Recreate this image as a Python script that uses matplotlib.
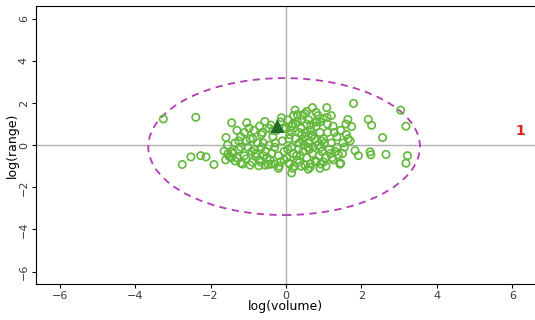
import numpy as np
import matplotlib.pyplot as plt
from matplotlib.patches import Ellipse

# log(volume), log(range) of the green points
vol = [-3.25, -2.39, -1.44, -1.59, -1.64, -1.54, -1.43, -2.52, -2.26, -2.12, -2.75, -1.91,
       -1.04, -0.56, -1.30, -1.20, -1.35, -1.25, -1.10, -1.30, -1.00, -0.95, -0.85, -0.80,
       -0.70, -0.90, -0.60, -0.65, -0.55, -0.50, -0.40, -0.72, -0.47, -0.35, -0.30, -0.20,
       -0.15, -0.10, -0.05, -0.45, -1.15, -0.98, -1.55, -1.45, -0.25, -0.15, -1.20, -0.75,
       -0.60, -0.38, -0.28, -0.85, -1.05, -0.45, -0.20, -0.65, -1.40, -0.90,
       0.24, 0.70, 1.08, 0.45, 1.79, 0.98, 1.09, 1.64, 1.59, 1.74, 2.18, 2.27, 3.04, 3.18,
       2.56, 1.51, 1.83, 1.92, 2.23, 2.25, 2.65, 3.22, 3.18, 1.39, 1.45, 0.15, 0.59, 1.43,
       0.05, 0.15, 0.30, 0.40, 0.55, 0.65, 0.80, 0.90, 0.10, 0.25, 0.35, 0.50, 0.60, 0.75,
       0.85, 1.00, 1.10, 1.20, 1.25, 1.35, 0.05, 0.20, 0.30, 0.45, 0.55, 0.70, 0.80, 0.95,
       1.05, 1.15, 1.25, 0.10, 0.40, 0.65, 0.90, 1.00, 1.30, 1.50, 1.60, 1.70, 1.45, 0.20,
       0.50, 0.85, 0.35, 0.00, 0.60, 1.20, 0.15, 0.45, 0.72, 1.02, 0.28, 0.58, 0.88, 1.18,
       0.12, 0.42, 0.68, 0.95, 1.35, 0.25, 0.52, 0.78, 1.10, 0.02, 0.33, 0.62, 0.92, 1.28,
       0.08, 0.38, 0.70, 1.55, 1.65, 0.18, 0.48, 0.82,
       -1.60, -1.50, -1.35, -1.20, -1.05, -0.95, -0.80, -0.68, -0.55, -0.42, -0.30, -0.18,
       -0.05, 0.08, 0.22, 0.36, 0.50, 0.64, 0.78, 0.92, 1.06, 1.22, -1.25, -1.10, -0.88,
       -0.62, -0.35, -0.08, 0.18, 0.42, 0.66, 0.90, -0.70, -0.40, -0.12, 0.30, 0.55, 0.80]
rng = [1.24, 1.32, 1.06, 0.36, -0.28, -0.42, -0.32, -0.56, -0.50, -0.56, -0.92, -0.92,
       1.06, 1.12, 0.70, 0.40, 0.10, -0.20, -0.50, -0.60, -0.10, 0.30, 0.70, -0.40,
       -0.70, -0.80, 0.10, 0.50, -0.30, -0.60, -0.90, -0.98, -0.92, 0.40, -0.10, -0.50,
       -0.80, 0.20, -0.30, 0.80, -0.90, 0.80, 0.00, -0.60, 0.70, 1.10, -0.10, 0.10,
       -0.50, -0.40, 0.10, -0.20, 0.20, 0.00, -1.10, -0.10, -0.40, -0.30,
       1.66, 1.78, 1.78, 1.42, 1.98, 1.26, 1.32, 1.22, 1.00, 0.88, 1.22, 0.94, 1.66, 0.90,
       0.36, 0.10, -0.26, -0.50, -0.32, -0.46, -0.44, -0.50, -0.86, -0.46, -0.86, -1.32, -1.14, -0.90,
       1.20, 0.90, 1.10, 0.80, 1.00, 0.70, 0.90, 0.60, 0.50, 0.30, 0.10, 0.40, 0.10, 0.30,
       0.00, 0.30, 0.60, 0.10, 0.90, 0.40, -0.20, -0.40, -0.70, -0.30, -0.60, -0.40, -0.80, -0.30,
       -0.60, -0.20, -0.70, -0.90, -1.00, -0.90, -1.10, -0.80, -0.30, -0.40, 0.50, 0.20, 0.70, 1.40,
       1.50, 1.40, 0.60, 0.80, 1.20, 1.40, -0.10, 0.20, -0.10, 0.10, -0.50, -0.10, -0.50, -0.40,
       0.70, 0.50, 0.40, 0.20, -0.10, 1.00, 0.60, 1.10, 1.00, -0.60, -0.20, -0.20, -0.10, 0.60,
       0.30, -0.50, 0.50, -0.10, 0.30, -1.10, 0.00, 1.10,
       -0.70, -0.55, -0.75, -0.85, -0.65, -0.95, -0.55, -0.80, -0.95, -0.70, -0.90, -1.00,
       -0.70, -0.85, -1.00, -0.80, -0.95, -1.05, -0.75, -0.90, -1.00, -0.60, 0.20, 0.60, 0.30,
       0.60, 0.70, 0.80, 1.00, 1.20, 0.95, 1.10, 0.90, 0.95, 1.30, 1.45, 1.60, 1.55]

centroid = (-0.25, 0.92)
ell_center = (-0.05, -0.07)
ell_width = 7.2
ell_height = 6.5

fig = plt.figure(figsize=(5.35, 3.2), dpi=100)
ax = fig.add_axes([0.067, 0.112, 0.933, 0.869])

ax.axhline(0, color='#b0b0b0', lw=1, zorder=0)
ax.axvline(0, color='#b0b0b0', lw=1, zorder=0)

ax.scatter(vol, rng, s=28, facecolors='none', edgecolors='#62b83a', linewidths=1.2, zorder=2)
ax.scatter([centroid[0]], [centroid[1]], marker='^', s=70, color='#1f6b2a', zorder=3)

ell = Ellipse(ell_center, ell_width, ell_height, fill=False, edgecolor='#b13bb5',
              linestyle=(0, (4, 3)), lw=1.3, zorder=1)
ax.add_patch(ell)

ax.text(6.2, 0.66, '1', color='#e0201a', fontsize=10, fontweight='bold', ha='center', va='center')

ax.set_xlim(-6.63, 6.6)
ax.set_ylim(-6.6, 6.6)
ax.set_xticks([-6, -4, -2, 0, 2, 4, 6])
ax.set_yticks([-6, -4, -2, 0, 2, 4, 6])
ax.tick_params(labelsize=8, length=3, labelcolor='#3a3a44', pad=2)
for lab in ax.get_yticklabels():
  lab.set_rotation(90)
  lab.set_va('center')
ax.spines['right'].set_visible(False)
ax.set_xlabel('log(volume)', fontsize=9, labelpad=-1)
ax.set_ylabel('log(range)', fontsize=9, labelpad=0)

fig.savefig('out.png', dpi=100)
